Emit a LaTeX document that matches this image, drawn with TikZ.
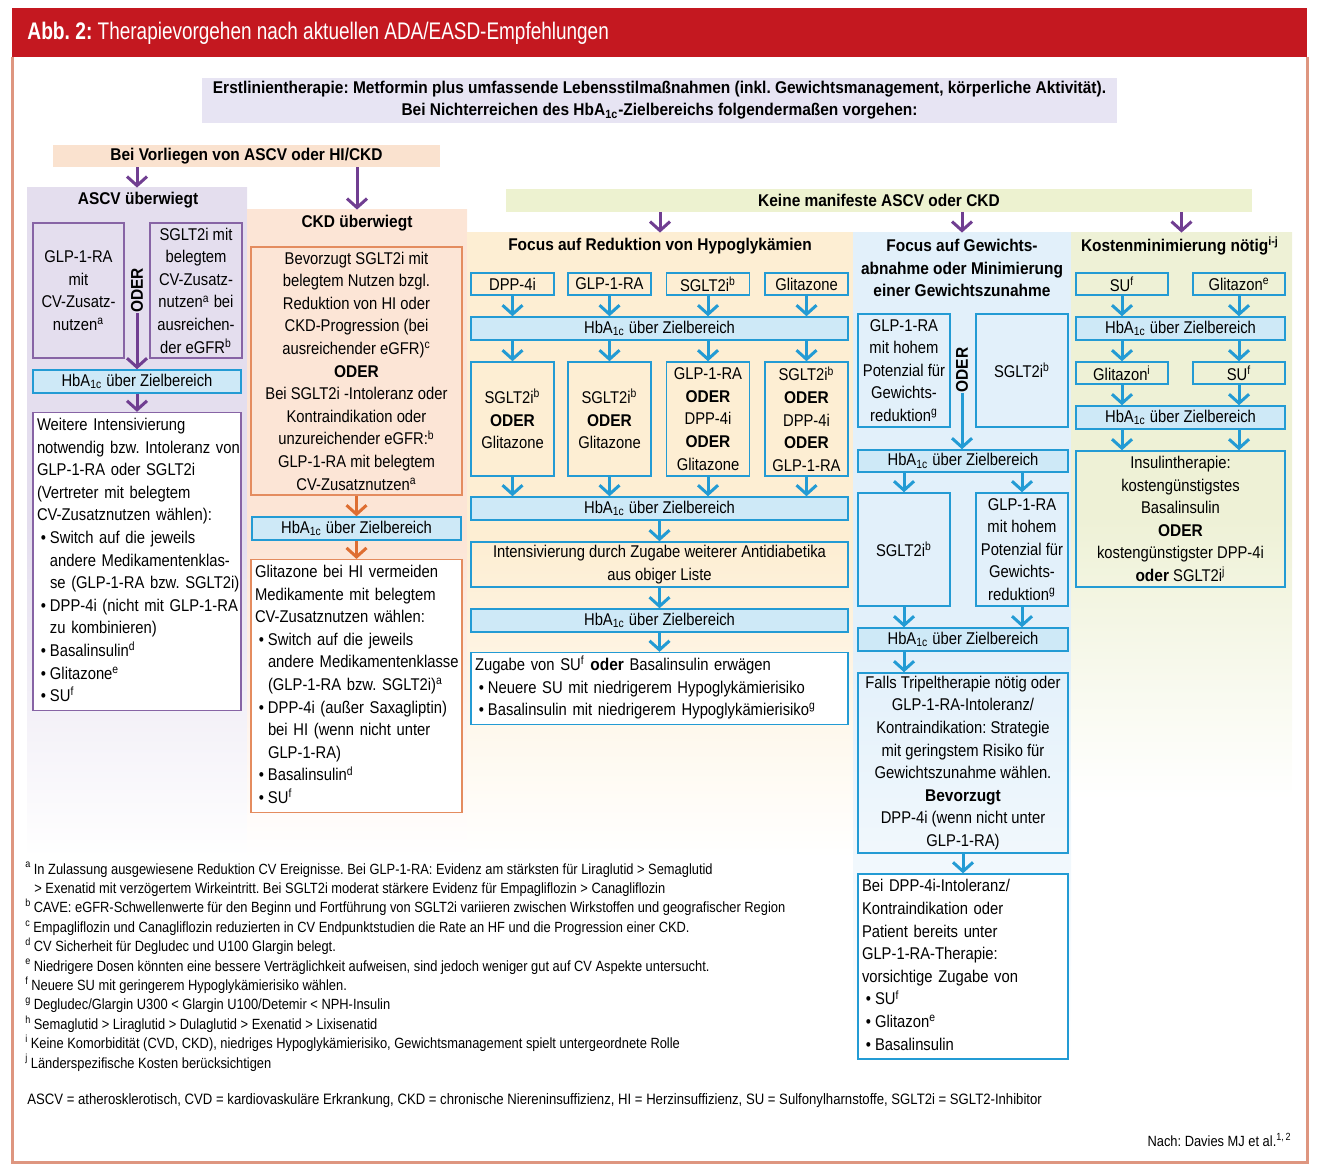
\documentclass[tikz,border=0pt]{standalone}
\usepackage{fontspec}
\setmainfont{Liberation Sans}[FakeStretch=0.87,BoldFeatures={FakeStretch=0.91}]
\newfontfamily\hdrfont{Liberation Sans}[FakeStretch=0.79,BoldFeatures={FakeStretch=0.8}]
\usetikzlibrary{arrows.meta,positioning,calc}

\definecolor{hdrred}{RGB}{196,24,32}
\definecolor{framec}{RGB}{222,150,128}
\definecolor{lavtop}{RGB}{231,228,243}
\definecolor{peach}{RGB}{250,226,207}
\definecolor{ascvbg}{RGB}{228,222,238}
\definecolor{ckdbg}{RGB}{252,229,214}
\definecolor{keinebg}{RGB}{237,242,208}
\definecolor{hypobg}{RGB}{253,238,211}
\definecolor{wghtbg}{RGB}{226,240,250}
\definecolor{costbg}{RGB}{238,241,214}
\definecolor{hbafill}{RGB}{206,233,247}
\definecolor{cyanline}{RGB}{35,155,212}
\definecolor{purpline}{RGB}{112,62,145}
\definecolor{purpbox}{RGB}{135,100,165}
\definecolor{orgline}{RGB}{222,110,50}
\definecolor{orgbox}{RGB}{228,140,95}

\newcommand{\hba}{HbA\textsubscript{1c} über Zielbereich}
\newcommand{\blt}{\makebox[6.5pt][c]{\textbullet}}
\newcommand{\ind}{\hspace*{6.5pt}}
\newcommand{\lines}[1]{\noindent\begin{tabular}{@{}l@{}}#1\end{tabular}}
\frenchspacing

\begin{document}
\begin{tikzpicture}[x=0.5pt,y=-0.5pt,
  font=\fontsize{8.5}{11.3}\selectfont,
  ttl/.style={font=\fontsize{8.5}{11.3}\selectfont\bfseries,align=center,inner sep=0pt},
  wh/.style 2 args={minimum width=#1pt,minimum height=#2pt},
  col/.style={inner sep=0pt,top color=#1,bottom color=white,middle color=#1},
  bar/.style={fill=#1,inner sep=0pt,font=\fontsize{8.5}{11}\selectfont\bfseries,align=center},
  bx/.style={draw=#1,line width=0.75pt,inner xsep=2pt,inner ysep=1pt,align=center},
  cb/.style={bx=cyanline},
  hb/.style={draw=cyanline,fill=hbafill,line width=0.75pt,inner sep=0pt,minimum height=11.5pt},
  lst/.style={fill=white,align=left,text width=#1pt},
  note/.style={inner sep=0pt,font=\fontsize{7.4}{9.7}\selectfont},
  parr/.style={draw=purpline,line width=1.5pt,-{Straight Barb[length=4.5pt,width=10pt]}},
  oarr/.style={parr,draw=orgline},
  barr/.style={parr,draw=cyanline}]
\useasboundingbox (0,0) rectangle (1317,1171);

% header and frame
\fill[hdrred] (12,8) rectangle (1307,57);
\node[anchor=west,text=white,inner sep=0pt,font=\hdrfont\fontsize{12}{13}\selectfont] (hdr) at (27,33)
  {\textbf{Abb. 2:} Therapievorgehen nach aktuellen ADA/EASD-Empfehlungen};
\draw[framec,line width=1.5pt] (12,57) -- (12,1162) -- (1307,1162) -- (1307,57);

% first line and branches
\node[bar=lavtop,wh={457.5}{22.5}] (erst) at (659.5,100.5)
  {Erstlinientherapie: Metformin plus umfassende Lebensstilmaßnahmen (inkl. Gewichtsmanagement, körperliche Aktivität).\\
   Bei Nichterreichen des HbA\textsubscript{1c}-Zielbereichs folgendermaßen vorgehen:};
\node[bar=peach,wh={193.5}{11}] (vorl) at (246.5,156) {Bei Vorliegen von ASCV oder HI/CKD};
\node[bar=keinebg,wh={373}{11.5}] (keine) at (879,200.5) {Keine manifeste ASCV oder CKD};

% column backgrounds
\node[col=ascvbg,wh={110}{335}] (cascv) at (137,523) {};
\node[col=ckdbg,wh={110}{324}] (cckd) at (357,534) {};
\node[col=hypobg,wh={193}{312.5}] (chypo) at (660,545.5) {};
\node[col=wghtbg,wh={109}{414.5}] (cwght) at (962,647.5) {};
\node[col=costbg,wh={110.5}{283.5}] (ccost) at (1181.5,516.5) {};

\draw[parr] (vorl.south -| cascv.north) -- (cascv.north);
\draw[parr] (vorl.south -| cckd.north) -- (cckd.north);
\draw[parr] (keine.south -| chypo.north) -- (chypo.north);
\draw[parr] (keine.south -| cwght.north) -- (cwght.north);
\draw[parr] (keine.south -| ccost.north) -- (ccost.north);

% ASCV
\node[ttl] (tascv) at (138,200) {ASCV überwiegt};
\node[bx=purpbox,wh={45.5}{67.5}] (glp1) at (78.5,290.5)
  {GLP-1-RA\\mit\\CV-Zusatz-\\nutzen\textsuperscript{a}};
\node[bx=purpbox,wh={46}{67.5}] (sglt1) at (196,290.5)
  {SGLT2i mit\\belegtem\\CV-Zusatz-\\nutzen\textsuperscript{a} bei\\ausreichen-\\der eGFR\textsuperscript{b}};
\node[ttl,rotate=90] (oder1) at (137,290.5) {ODER};
\node[hb,wh={104}{11.5}] (hba1) at (137,381.5) {\hba};
\node[bx=purpbox,lst=100,wh={104}{146.5}] (weit) at (137,561.5) {\lines{%
  Weitere Intensivierung\\
  notwendig bzw. Intoleranz von\\
  GLP-1-RA oder SGLT2i\\
  (Vertreter mit belegtem\\
  CV-Zusatznutzen wählen):\\
  \blt Switch auf die jeweils\\
  \ind andere Medikamentenklas-\\
  \ind se (GLP-1-RA bzw. SGLT2i)\\
  \blt DPP-4i (nicht mit GLP-1-RA\\
  \ind zu kombinieren)\\
  \blt Basalinsulin\textsuperscript{d}\\
  \blt Glitazone\textsuperscript{e}\\
  \blt SU\textsuperscript{f}}};
\draw[parr] (oder1.west) -- (oder1.west |- hba1.north);
\draw[parr] (hba1) -- (weit);

% CKD
\node[ttl] (tckd) at (357,223) {CKD überwiegt};
\node[bx=orgbox,wh={105.5}{124}] (bev) at (356.5,371)
  {Bevorzugt SGLT2i mit\\belegtem Nutzen bzgl.\\Reduktion von HI oder\\CKD-Progression (bei\\
   ausreichender eGFR)\textsuperscript{c}\\\textbf{ODER}\\Bei SGLT2i -Intoleranz oder\\
   Kontraindikation oder\\unzureichender eGFR:\textsuperscript{b}\\GLP-1-RA mit belegtem\\
   CV-Zusatznutzen\textsuperscript{a}};
\node[hb,wh={104.5}{11.5}] (hba2) at (356.5,528.5) {\hba};
\node[bx=orgbox,lst=101.5,wh={105.5}{124}] (glit) at (356.5,686) {\lines{%
  Glitazone bei HI vermeiden\\
  Medikamente mit belegtem\\
  CV-Zusatznutzen wählen:\\
  \blt Switch auf die jeweils\\
  \ind andere Medikamentenklasse\\
  \ind (GLP-1-RA bzw. SGLT2i)\textsuperscript{a}\\
  \blt DPP-4i (außer Saxagliptin)\\
  \ind bei HI (wenn nicht unter\\
  \ind GLP-1-RA)\\
  \blt Basalinsulin\textsuperscript{d}\\
  \blt SU\textsuperscript{f}}};
\draw[oarr] (bev) -- (hba2);
\draw[oarr] (hba2) -- (glit);

% focus on hypoglycaemia
\node[ttl] (thypo) at (660,246) {Focus auf Reduktion von Hypoglykämien};
\foreach \n/\x/\t in {1/512.5/DPP-4i, 2/609.5/GLP-1-RA, 3/708/SGLT2i\textsuperscript{b}, 4/806.5/Glitazone}
  \node[cb,wh={41.5}{11}] (a\n) at (\x,284) {\t};
\node[hb,wh={188.5}{11.5}] (hba3) at (659.5,328.5) {\hba};
\node[cb,wh={41.5}{57}] (b1) at (512.5,419) {SGLT2i\textsuperscript{b}\\\textbf{ODER}\\Glitazone};
\node[cb,wh={41.5}{57}] (b2) at (609.5,419) {SGLT2i\textsuperscript{b}\\\textbf{ODER}\\Glitazone};
\node[cb,wh={41.5}{57}] (b3) at (708,419) {GLP-1-RA\\\textbf{ODER}\\DPP-4i\\\textbf{ODER}\\Glitazone};
\node[cb,wh={41.5}{57}] (b4) at (806.5,419) {SGLT2i\textsuperscript{b}\\\textbf{ODER}\\DPP-4i\\\textbf{ODER}\\GLP-1-RA};
\node[hb,wh={188.5}{11.5}] (hba4) at (659.5,508.5) {\hba};
\node[cb,wh={188.5}{22.5}] (inten) at (659.5,564.5)
  {Intensivierung durch Zugabe weiterer Antidiabetika\\aus obiger Liste};
\node[hb,wh={188.5}{11.5}] (hba5) at (659.5,620.5) {\hba};
\node[cb,lst=184.5,wh={188.5}{34.5}] (zug) at (659.5,688.5) {\lines{%
  Zugabe von SU\textsuperscript{f} \textbf{oder} Basalinsulin erwägen\\
  \blt Neuere SU mit niedrigerem Hypoglykämierisiko\\
  \blt Basalinsulin mit niedrigerem Hypoglykämierisiko\textsuperscript{g}}};
\foreach \n in {1,...,4} {
  \draw[barr] (a\n) -- (a\n |- hba3.north);
  \draw[barr] (a\n |- hba3.south) -- (b\n);
  \draw[barr] (b\n) -- (b\n |- hba4.north);
}
\draw[barr] (hba4) -- (inten);
\draw[barr] (inten) -- (hba5);
\draw[barr] (hba5) -- (zug);

% focus on weight
\node[ttl] (twght) at (962,268) {Focus auf Gewichts-\\abnahme oder Minimierung\\einer Gewichtszunahme};
\node[cb,wh={46}{56.5}] (wglp1) at (904,370.5)
  {GLP-1-RA\\mit hohem\\Potenzial für\\Gewichts-\\reduktion\textsuperscript{g}};
\node[cb,wh={46}{56.5}] (wsglt1) at (1022,370.5) {SGLT2i\textsuperscript{b}};
\node[ttl,rotate=90] (oder2) at (962,370) {ODER};
\node[hb,wh={105}{11}] (hba6) at (963,461) {\hba};
\node[cb,wh={46}{56.5}] (wsglt2) at (904,549.5) {SGLT2i\textsuperscript{b}};
\node[cb,wh={46}{56.5}] (wglp2) at (1022,549.5)
  {GLP-1-RA\\mit hohem\\Potenzial für\\Gewichts-\\reduktion\textsuperscript{g}};
\node[hb,wh={105}{11.5}] (hba7) at (963,639.5) {\hba};
\node[cb,wh={105}{90}] (falls) at (963,763)
  {Falls Tripeltherapie nötig oder\\GLP-1-RA-Intoleranz/\\Kontraindikation: Strategie\\
   mit geringstem Risiko für\\Gewichtszunahme wählen.\\\textbf{Bevorzugt}\\
   DPP-4i (wenn nicht unter\\GLP-1-RA)};
\node[cb,lst=101,wh={105}{90.5}] (beidpp) at (963,966.5) {\lines{%
  Bei DPP-4i-Intoleranz/\\
  Kontraindikation oder\\
  Patient bereits unter\\
  GLP-1-RA-Therapie:\\
  vorsichtige Zugabe von\\
  \blt SU\textsuperscript{f}\\
  \blt Glitazon\textsuperscript{e}\\
  \blt Basalinsulin}};
\draw[barr] (oder2.west) -- (oder2.west |- hba6.north);
\draw[barr] (hba6.south -| wsglt2.north) -- (wsglt2);
\draw[barr] (hba6.south -| wglp2.north) -- (wglp2);
\draw[barr] (wsglt2) -- (wsglt2 |- hba7.north);
\draw[barr] (wglp2) -- (wglp2 |- hba7.north);
\draw[barr] (hba7.south -| wsglt2.south) -- (falls.north -| wsglt2.south);
\draw[barr] (falls) -- (beidpp);

% cost minimisation
\node[ttl] (tcost) at (1180,246) {Kostenminimierung nötig\textsuperscript{i-j}};
\node[cb,wh={46}{11}] (su1) at (1122,284) {SU\textsuperscript{f}};
\node[cb,wh={46}{11}] (glz1) at (1239,284) {Glitazon\textsuperscript{e}};
\node[hb,wh={104.5}{11.5}] (hba8) at (1180.5,328.5) {\hba};
\node[cb,wh={46}{11}] (glz2) at (1122,373) {Glitazon\textsuperscript{i}};
\node[cb,wh={46}{11}] (su2) at (1239,373) {SU\textsuperscript{f}};
\node[hb,wh={104.5}{11.5}] (hba9) at (1180.5,417.5) {\hba};
\node[cb,wh={104.5}{68}] (ins) at (1180.5,519)
  {Insulintherapie:\\kostengünstigstes\\Basalinsulin\\\textbf{ODER}\\kostengünstigster DPP-4i\\\textbf{oder} SGLT2i\textsuperscript{j}};
\foreach \p/\q in {su1/glz2, glz1/su2} {
  \draw[barr] (\p) -- (\p |- hba8.north);
  \draw[barr] (\q |- hba8.south) -- (\q);
  \draw[barr] (\q) -- (\q |- hba9.north);
  \draw[barr] (\q |- hba9.south) -- (\q |- ins.north);
}

% footnotes
\node[note,anchor=north west,align=left] (fn) at (25,862)
  {\textsuperscript{a}\,In Zulassung ausgewiesene Reduktion CV Ereignisse. Bei GLP-1-RA: Evidenz am stärksten für Liraglutid > Semaglutid\\
   \hspace*{4.5pt}> Exenatid mit verzögertem Wirkeintritt. Bei SGLT2i moderat stärkere Evidenz für Empagliflozin > Canagliflozin\\
   \textsuperscript{b}\,CAVE: eGFR-Schwellenwerte für den Beginn und Fortführung von SGLT2i variieren zwischen Wirkstoffen und geografischer Region\\
   \textsuperscript{c}\,Empagliflozin und Canagliflozin reduzierten in CV Endpunktstudien die Rate an HF und die Progression einer CKD.\\
   \textsuperscript{d}\,CV Sicherheit für Degludec und U100 Glargin belegt.\\
   \textsuperscript{e}\,Niedrigere Dosen könnten eine bessere Verträglichkeit aufweisen, sind jedoch weniger gut auf CV Aspekte untersucht.\\
   \textsuperscript{f}\,Neuere SU mit geringerem Hypoglykämierisiko wählen.\\
   \textsuperscript{g}\,Degludec/Glargin U300 < Glargin U100/Detemir < NPH-Insulin\\
   \textsuperscript{h}\,Semaglutid > Liraglutid > Dulaglutid > Exenatid > Lixisenatid\\
   \textsuperscript{i}\,Keine Komorbidität (CVD, CKD), niedriges Hypoglykämierisiko, Gewichtsmanagement spielt untergeordnete Rolle\\
   \textsuperscript{j}\,Länderspezifische Kosten berücksichtigen};
\node[note,anchor=west,font=\fontsize{7.55}{9.7}\selectfont] (abbr) at (27,1101)
  {ASCV = atherosklerotisch, CVD = kardiovaskuläre Erkrankung, CKD = chronische Niereninsuffizienz, HI = Herzinsuffizienz, SU = Sulfonylharnstoffe, SGLT2i = SGLT2-Inhibitor};
\node[note,anchor=east] (src) at (1292,1140) {Nach: Davies MJ et al.\textsuperscript{1,\,2}};
\end{tikzpicture}
\end{document}
